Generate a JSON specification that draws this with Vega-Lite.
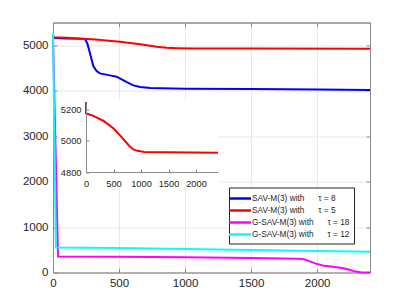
{
  "$schema": "https://vega.github.io/schema/vega-lite/v6.json",
  "width": 317,
  "height": 250,
  "autosize": {"type": "none"},
  "padding": {"left": 53, "top": 22.5, "right": 39, "bottom": 34.5},
  "background": "white",
  "config": {
    "view": {"stroke": "#8a8a8a", "strokeWidth": 1},
    "axis": {
      "labelFont": "Liberation Sans",
      "labelColor": "#262626",
      "domainColor": "#8a8a8a",
      "tickColor": "#8a8a8a",
      "gridColor": "#e8e8e8",
      "title": null,
      "format": "d",
      "labelFlush": false,
      "labelOverlap": false
    },
    "legend": {"labelFont": "Liberation Sans"}
  },
  "datasets": {
    "main": [
      {"series": "s1", "x": 0, "y": 5160},
      {"series": "s1", "x": 100, "y": 5150},
      {"series": "s1", "x": 240, "y": 5140},
      {"series": "s1", "x": 260, "y": 5040},
      {"series": "s1", "x": 279, "y": 4835},
      {"series": "s1", "x": 305, "y": 4542},
      {"series": "s1", "x": 330, "y": 4432},
      {"series": "s1", "x": 355, "y": 4380},
      {"series": "s1", "x": 431, "y": 4337},
      {"series": "s1", "x": 482, "y": 4308},
      {"series": "s1", "x": 520, "y": 4249},
      {"series": "s1", "x": 558, "y": 4190},
      {"series": "s1", "x": 609, "y": 4117},
      {"series": "s1", "x": 660, "y": 4080},
      {"series": "s1", "x": 736, "y": 4059},
      {"series": "s1", "x": 1000, "y": 4045},
      {"series": "s1", "x": 1500, "y": 4035},
      {"series": "s1", "x": 2000, "y": 4025},
      {"series": "s1", "x": 2400, "y": 4015},
      {"series": "s2", "x": 0, "y": 5240},
      {"series": "s2", "x": 5, "y": 5176},
      {"series": "s2", "x": 105, "y": 5165},
      {"series": "s2", "x": 320, "y": 5128},
      {"series": "s2", "x": 506, "y": 5078},
      {"series": "s2", "x": 660, "y": 5019},
      {"series": "s2", "x": 784, "y": 4969},
      {"series": "s2", "x": 860, "y": 4945},
      {"series": "s2", "x": 938, "y": 4936},
      {"series": "s2", "x": 1062, "y": 4929},
      {"series": "s2", "x": 1500, "y": 4927},
      {"series": "s2", "x": 2400, "y": 4923},
      {"series": "s3", "x": 0, "y": 5200},
      {"series": "s3", "x": 38, "y": 350},
      {"series": "s3", "x": 500, "y": 345},
      {"series": "s3", "x": 1000, "y": 335},
      {"series": "s3", "x": 1500, "y": 320},
      {"series": "s3", "x": 1850, "y": 305},
      {"series": "s3", "x": 1900, "y": 290},
      {"series": "s3", "x": 1950, "y": 240},
      {"series": "s3", "x": 2000, "y": 185},
      {"series": "s3", "x": 2050, "y": 150},
      {"series": "s3", "x": 2120, "y": 128},
      {"series": "s3", "x": 2200, "y": 95},
      {"series": "s3", "x": 2250, "y": 55},
      {"series": "s3", "x": 2290, "y": 20},
      {"series": "s3", "x": 2330, "y": 4},
      {"series": "s3", "x": 2400, "y": 0},
      {"series": "s4", "x": 0, "y": 5260},
      {"series": "s4", "x": 22, "y": 550},
      {"series": "s4", "x": 500, "y": 540},
      {"series": "s4", "x": 1000, "y": 515},
      {"series": "s4", "x": 1500, "y": 495},
      {"series": "s4", "x": 2000, "y": 472},
      {"series": "s4", "x": 2400, "y": 455}
    ],
    "labels": [
      {"series": "s1", "label": "SAV-M(3) with\u00a0\u00a0\u00a0\u00a0\u00a0\u00a0τ = 8"},
      {"series": "s2", "label": "SAV-M(3) with\u00a0\u00a0\u00a0\u00a0\u00a0\u00a0τ = 5"},
      {"series": "s3", "label": "G-SAV-M(3) with\u00a0\u00a0\u00a0\u00a0\u00a0\u00a0τ = 18"},
      {"series": "s4", "label": "G-SAV-M(3) with\u00a0\u00a0\u00a0\u00a0\u00a0\u00a0τ = 12"}
    ],
    "inset": [
      {"x": 0, "y": 5250},
      {"x": 1, "y": 5176},
      {"x": 105, "y": 5165},
      {"x": 320, "y": 5128},
      {"x": 506, "y": 5078},
      {"x": 660, "y": 5019},
      {"x": 784, "y": 4969},
      {"x": 860, "y": 4945},
      {"x": 938, "y": 4936},
      {"x": 1062, "y": 4929},
      {"x": 1500, "y": 4927},
      {"x": 2400, "y": 4923}
    ]
  },
  "layer": [
    {
      "data": {"name": "main"},
      "transform": [
        {"lookup": "series", "from": {"data": {"name": "labels"}, "key": "series", "fields": ["label"]}}
      ],
      "layer": [
        {
          "mark": {"type": "line", "strokeWidth": 2},
          "encoding": {
            "x": {
              "field": "x", "type": "quantitative",
              "scale": {"domain": [0, 2400], "nice": false},
              "axis": {"orient": "bottom", "values": [0, 500, 1000, 1500, 2000], "grid": true, "tickSize": -4, "labelPadding": 9, "labelFontSize": 11.5}
            },
            "y": {
              "field": "y", "type": "quantitative",
              "scale": {"domain": [0, 5500], "nice": false},
              "axis": {"orient": "left", "values": [0, 1000, 2000, 3000, 4000, 5000], "grid": true, "tickSize": -4, "labelPadding": 9, "labelFontSize": 11.5}
            },
            "color": {
              "field": "label", "type": "nominal",
              "scale": {
                "domain": ["SAV-M(3) with\u00a0\u00a0\u00a0\u00a0\u00a0\u00a0τ = 8", "SAV-M(3) with\u00a0\u00a0\u00a0\u00a0\u00a0\u00a0τ = 5", "G-SAV-M(3) with\u00a0\u00a0\u00a0\u00a0\u00a0\u00a0τ = 18", "G-SAV-M(3) with\u00a0\u00a0\u00a0\u00a0\u00a0\u00a0τ = 12"],
                "range": ["#0000ff", "#ff0000", "#ff00ff", "#00ffff"]
              },
              "legend": {
                "title": null,
                "orient": "none",
                "legendX": 176,
                "legendY": 165,
                "symbolType": "M-2,0H2",
                "symbolSize": 121,
                "symbolStrokeWidth": 2.5,
                "symbolFillColor": "transparent",
                "labelFontSize": 8.3,
                "labelOffset": 5,
                "labelColor": "#262626",
                "strokeColor": "#262626",
                "fillColor": "white",
                "padding": 4,
                "rowPadding": 0
              }
            }
          }
        },
        {
          "mark": {"type": "point", "opacity": 0},
          "encoding": {
            "x": {"field": "x", "type": "quantitative", "axis": {"orient": "top", "values": [0, 500, 1000, 1500, 2000], "labels": false, "grid": false, "tickSize": -4}},
            "y": {"field": "y", "type": "quantitative", "axis": {"orient": "right", "values": [0, 1000, 2000, 3000, 4000, 5000], "labels": false, "grid": false, "tickSize": -4}}
          }
        }
      ]
    },
    {
      "layer": [
        {
          "data": {"values": [{"a": 1}]},
          "mark": {"type": "rect", "color": "white", "opacity": 1},
          "encoding": {
            "x": {"datum": -509, "type": "quantitative", "scale": {"domain": [0, 2400], "range": [33, 165], "nice": false}, "axis": {"orient": "bottom", "offset": -100.5, "values": [0, 500, 1000, 1500, 2000], "grid": false, "tickSize": -3, "labelPadding": 10, "labelFontSize": 9.3, "zindex": 1}},
            "x2": {"datum": 2400},
            "y": {"datum": 5266, "type": "quantitative", "scale": {"domain": [4800, 5250], "range": [149.5, 79.5], "nice": false}, "axis": {"orient": "left", "offset": -33, "values": [4800, 5000, 5200], "grid": false, "tickSize": -3, "labelPadding": 8, "labelFontSize": 9.3, "zindex": 1}},
            "y2": {"datum": 4700}
          }
        },
        {
          "data": {"name": "inset"},
          "mark": {"type": "line", "color": "#ff0000", "strokeWidth": 2},
          "encoding": {
            "x": {"field": "x", "type": "quantitative", "axis": {"orient": "bottom", "offset": -100.5, "values": [0, 500, 1000, 1500, 2000], "grid": false, "tickSize": -3, "labelPadding": 10, "labelFontSize": 9.3, "zindex": 1}},
            "y": {"field": "y", "type": "quantitative", "axis": {"orient": "left", "offset": -33, "values": [4800, 5000, 5200], "grid": false, "tickSize": -3, "labelPadding": 8, "labelFontSize": 9.3, "zindex": 1}}
          }
        }
      ]
    }
  ],
  "resolve": {"scale": {"x": "independent", "y": "independent"}}
}
